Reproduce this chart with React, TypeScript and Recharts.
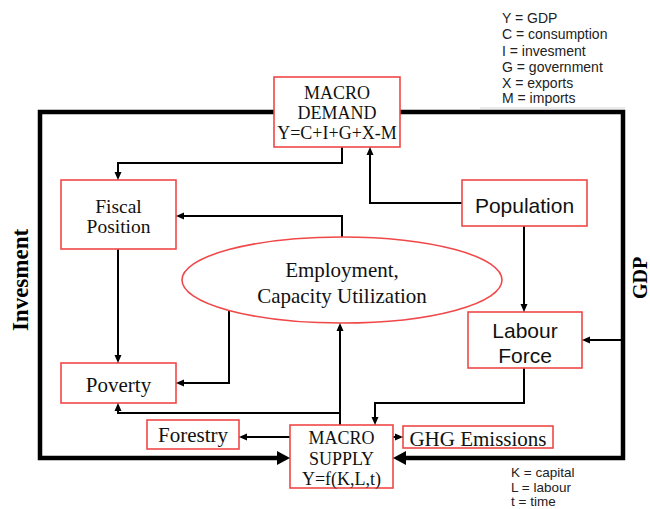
import { ScatterChart, Scatter, XAxis, YAxis } from 'recharts';

const W = 650;
const H = 509;

const SERIF = '"Liberation Serif", "Times New Roman", serif';
const SANS = '"Liberation Sans", Arial, sans-serif';
const RED = '#f04848';

type Box = {
  id: string;
  x: number;
  y: number;
  w: number;
  h: number;
  kind: 'rect' | 'ellipse';
  font: 'serif' | 'sans';
  size: number;
  lines: string[];
  ty: number; // centre of the text block
  gap: number; // line spacing
};

// diagram nodes (centre, width, height in picture pixels)
const boxes: Box[] = [
  { id: 'demand', x: 337, y: 112, w: 126, h: 70, kind: 'rect', font: 'serif', size: 18, lines: ['MACRO', 'DEMAND', 'Y=C+I+G+X-M'], ty: 113, gap: 20 },
  { id: 'fiscal', x: 118.5, y: 214.5, w: 115, h: 69, kind: 'rect', font: 'serif', size: 19.5, lines: ['Fiscal', 'Position'], ty: 216, gap: 20 },
  { id: 'population', x: 524.5, y: 203, w: 125, h: 46, kind: 'rect', font: 'sans', size: 21, lines: ['Population'], ty: 205, gap: 0 },
  { id: 'employment', x: 342, y: 280, w: 320, h: 86, kind: 'ellipse', font: 'serif', size: 21, lines: ['Employment,', 'Capacity Utilization'], ty: 283, gap: 26 },
  { id: 'labour', x: 525, y: 340, w: 114, h: 56, kind: 'rect', font: 'sans', size: 21, lines: ['Labour', 'Force'], ty: 342.5, gap: 25 },
  { id: 'poverty', x: 118.5, y: 383, w: 115, h: 40, kind: 'rect', font: 'serif', size: 21, lines: ['Poverty'], ty: 385, gap: 0 },
  { id: 'forestry', x: 193, y: 434.5, w: 92, h: 29, kind: 'rect', font: 'serif', size: 21, lines: ['Forestry'], ty: 435, gap: 0 },
  { id: 'supply', x: 341.5, y: 456.5, w: 103, h: 63, kind: 'rect', font: 'serif', size: 18, lines: ['MACRO', 'SUPPLY', 'Y=f(K,L,t)'], ty: 458.5, gap: 20.5 },
  { id: 'ghg', x: 478, y: 437, w: 150, h: 22, kind: 'rect', font: 'serif', size: 21, lines: ['GHG Emissions'], ty: 439, gap: 0 },
];

// connector polylines, in drawing order
const edges: { id: string; thick: boolean; pts: [number, number][] }[] = [
  { id: 'invest', thick: true, pts: [[274, 112], [40, 112], [40, 458], [279, 458]] },
  { id: 'gdp', thick: true, pts: [[400, 112], [623, 112], [623, 458], [404, 458]] },
  { id: 'gdp-labour', thick: false, pts: [[623, 340], [589, 340]] },
  { id: 'demand-fiscal', thick: false, pts: [[342, 147], [342, 163], [118, 163], [118, 174]] },
  { id: 'pop-demand', thick: false, pts: [[462, 203], [370, 203], [370, 153]] },
  { id: 'pop-labour', thick: false, pts: [[524, 226], [524, 306]] },
  { id: 'emp-fiscal', thick: false, pts: [[342, 237], [342, 216], [182, 216]] },
  { id: 'fiscal-poverty', thick: false, pts: [[118, 249], [118, 357]] },
  { id: 'emp-poverty', thick: false, pts: [[229, 311], [229, 383], [182, 383]] },
  { id: 'supply-emp', thick: false, pts: [[340, 425], [340, 329]] },
  { id: 'supply-poverty', thick: false, pts: [[340, 413], [118, 413], [118, 409]] },
  { id: 'labour-supply', thick: false, pts: [[524, 368], [524, 403], [375, 403], [375, 419]] },
  { id: 'supply-forestry', thick: false, pts: [[290, 437], [245, 437]] },
  { id: 'supply-ghg', thick: false, pts: [[393, 437], [398, 437]] },
];

// arrow tips: where they point and which way
const arrows: { x: number; y: number; dir: 'up' | 'down' | 'left' | 'right'; big?: boolean }[] = [
  { x: 290, y: 458, dir: 'right', big: true },
  { x: 393, y: 458, dir: 'left', big: true },
  { x: 582, y: 340, dir: 'left' },
  { x: 118, y: 180, dir: 'down' },
  { x: 370, y: 147, dir: 'up' },
  { x: 524, y: 312, dir: 'down' },
  { x: 176, y: 216, dir: 'left' },
  { x: 118, y: 363, dir: 'down' },
  { x: 176, y: 383, dir: 'left' },
  { x: 340, y: 323, dir: 'up' },
  { x: 118, y: 403, dir: 'up' },
  { x: 375, y: 425, dir: 'down' },
  { x: 239, y: 437, dir: 'left' },
  { x: 403, y: 437, dir: 'right' },
];

const keyTop = ['Y = GDP', 'C = consumption', 'I = invesment', 'G = government', 'X = exports', 'M = imports'];
const keyTopY = [18, 34, 51, 67, 83, 98];
const keyBottom = ['K = capital', 'L = labour', 't = time'];
const keyBottomY = [472, 487, 501];

const sideLabels = [
  { x: 20, y: 280, text: 'Invesment', size: 23 },
  { x: 640, y: 278, text: 'GDP', size: 20 },
];

const keyRows = [
  ...keyTop.map((text, i) => ({ x: 502, y: keyTopY[i], text, size: 14 })),
  ...keyBottom.map((text, i) => ({ x: 511, y: keyBottomY[i], text, size: 13.5 })),
];

const angles = { right: 0, down: 90, left: 180, up: -90 };

const none = () => <g />;

function BoxShape(props: any) {
  const { cx, cy, payload } = props;
  const b: Box = payload;
  const fam = b.font === 'serif' ? SERIF : SANS;
  const n = b.lines.length;
  const dy = b.ty - b.y;
  return (
    <g>
      {b.kind === 'rect' ? (
        <rect x={cx - b.w / 2} y={cy - b.h / 2} width={b.w} height={b.h} fill="#fff" stroke={RED} strokeWidth={1.6} />
      ) : (
        <ellipse cx={cx} cy={cy} rx={b.w / 2} ry={b.h / 2} fill="#fff" stroke={RED} strokeWidth={1.6} />
      )}
      {b.lines.map((l, i) => (
        <text
          key={i}
          x={cx}
          y={cy + dy + (i - (n - 1) / 2) * b.gap}
          textAnchor="middle"
          dominantBaseline="central"
          fontFamily={fam}
          fontSize={b.size}
          fill="#111"
        >
          {l}
        </text>
      ))}
    </g>
  );
}

function ArrowShape(props: any) {
  const { cx, cy, payload } = props;
  const L = payload.big ? 13 : 8;
  const hw = payload.big ? 7 : 3.5;
  return (
    <polygon
      points={`${cx},${cy} ${cx - L},${cy - hw} ${cx - L},${cy + hw}`}
      fill="#000"
      transform={`rotate(${angles[payload.dir as keyof typeof angles]} ${cx} ${cy})`}
    />
  );
}

function KeyShape(props: any) {
  const { cx, cy, payload } = props;
  return (
    <text x={cx} y={cy} dominantBaseline="central" fontFamily={SANS} fontSize={payload.size} fill="#222">
      {payload.text}
    </text>
  );
}

function SideShape(props: any) {
  const { cx, cy, payload } = props;
  return (
    <text
      x={cx}
      y={cy}
      textAnchor="middle"
      dominantBaseline="central"
      fontFamily={SERIF}
      fontWeight="bold"
      fontSize={payload.size}
      fill="#000"
      transform={`rotate(-90 ${cx} ${cy})`}
    >
      {payload.text}
    </text>
  );
}

export default function App() {
  return (
    <div style={{ position: 'absolute', left: 0, top: 0, width: W, height: H, background: '#fff' }}>
      <ScatterChart width={W} height={H} margin={{ top: 0, right: 0, bottom: 0, left: 0 }}>
        <XAxis type="number" dataKey="x" domain={[0, W]} hide allowDataOverflow />
        <YAxis type="number" dataKey="y" domain={[0, H]} reversed hide allowDataOverflow />
        <Scatter
          data={[{ x: 480, y: 108 }, { x: 625, y: 108 }]}
          line={{ stroke: '#d6d6d6', strokeWidth: 1 }}
          shape={none}
          isAnimationActive={false}
        />
        {edges.map((e) => (
          <Scatter
            key={e.id}
            data={e.pts.map(([x, y]) => ({ x, y }))}
            line={{ stroke: '#000', strokeWidth: e.thick ? 4.5 : 2 }}
            shape={none}
            isAnimationActive={false}
          />
        ))}
        <Scatter data={boxes} shape={BoxShape} isAnimationActive={false} />
        <Scatter data={arrows} shape={ArrowShape} isAnimationActive={false} />
        <Scatter data={keyRows} shape={KeyShape} isAnimationActive={false} />
        <Scatter data={sideLabels} shape={SideShape} isAnimationActive={false} />
      </ScatterChart>
    </div>
  );
}
